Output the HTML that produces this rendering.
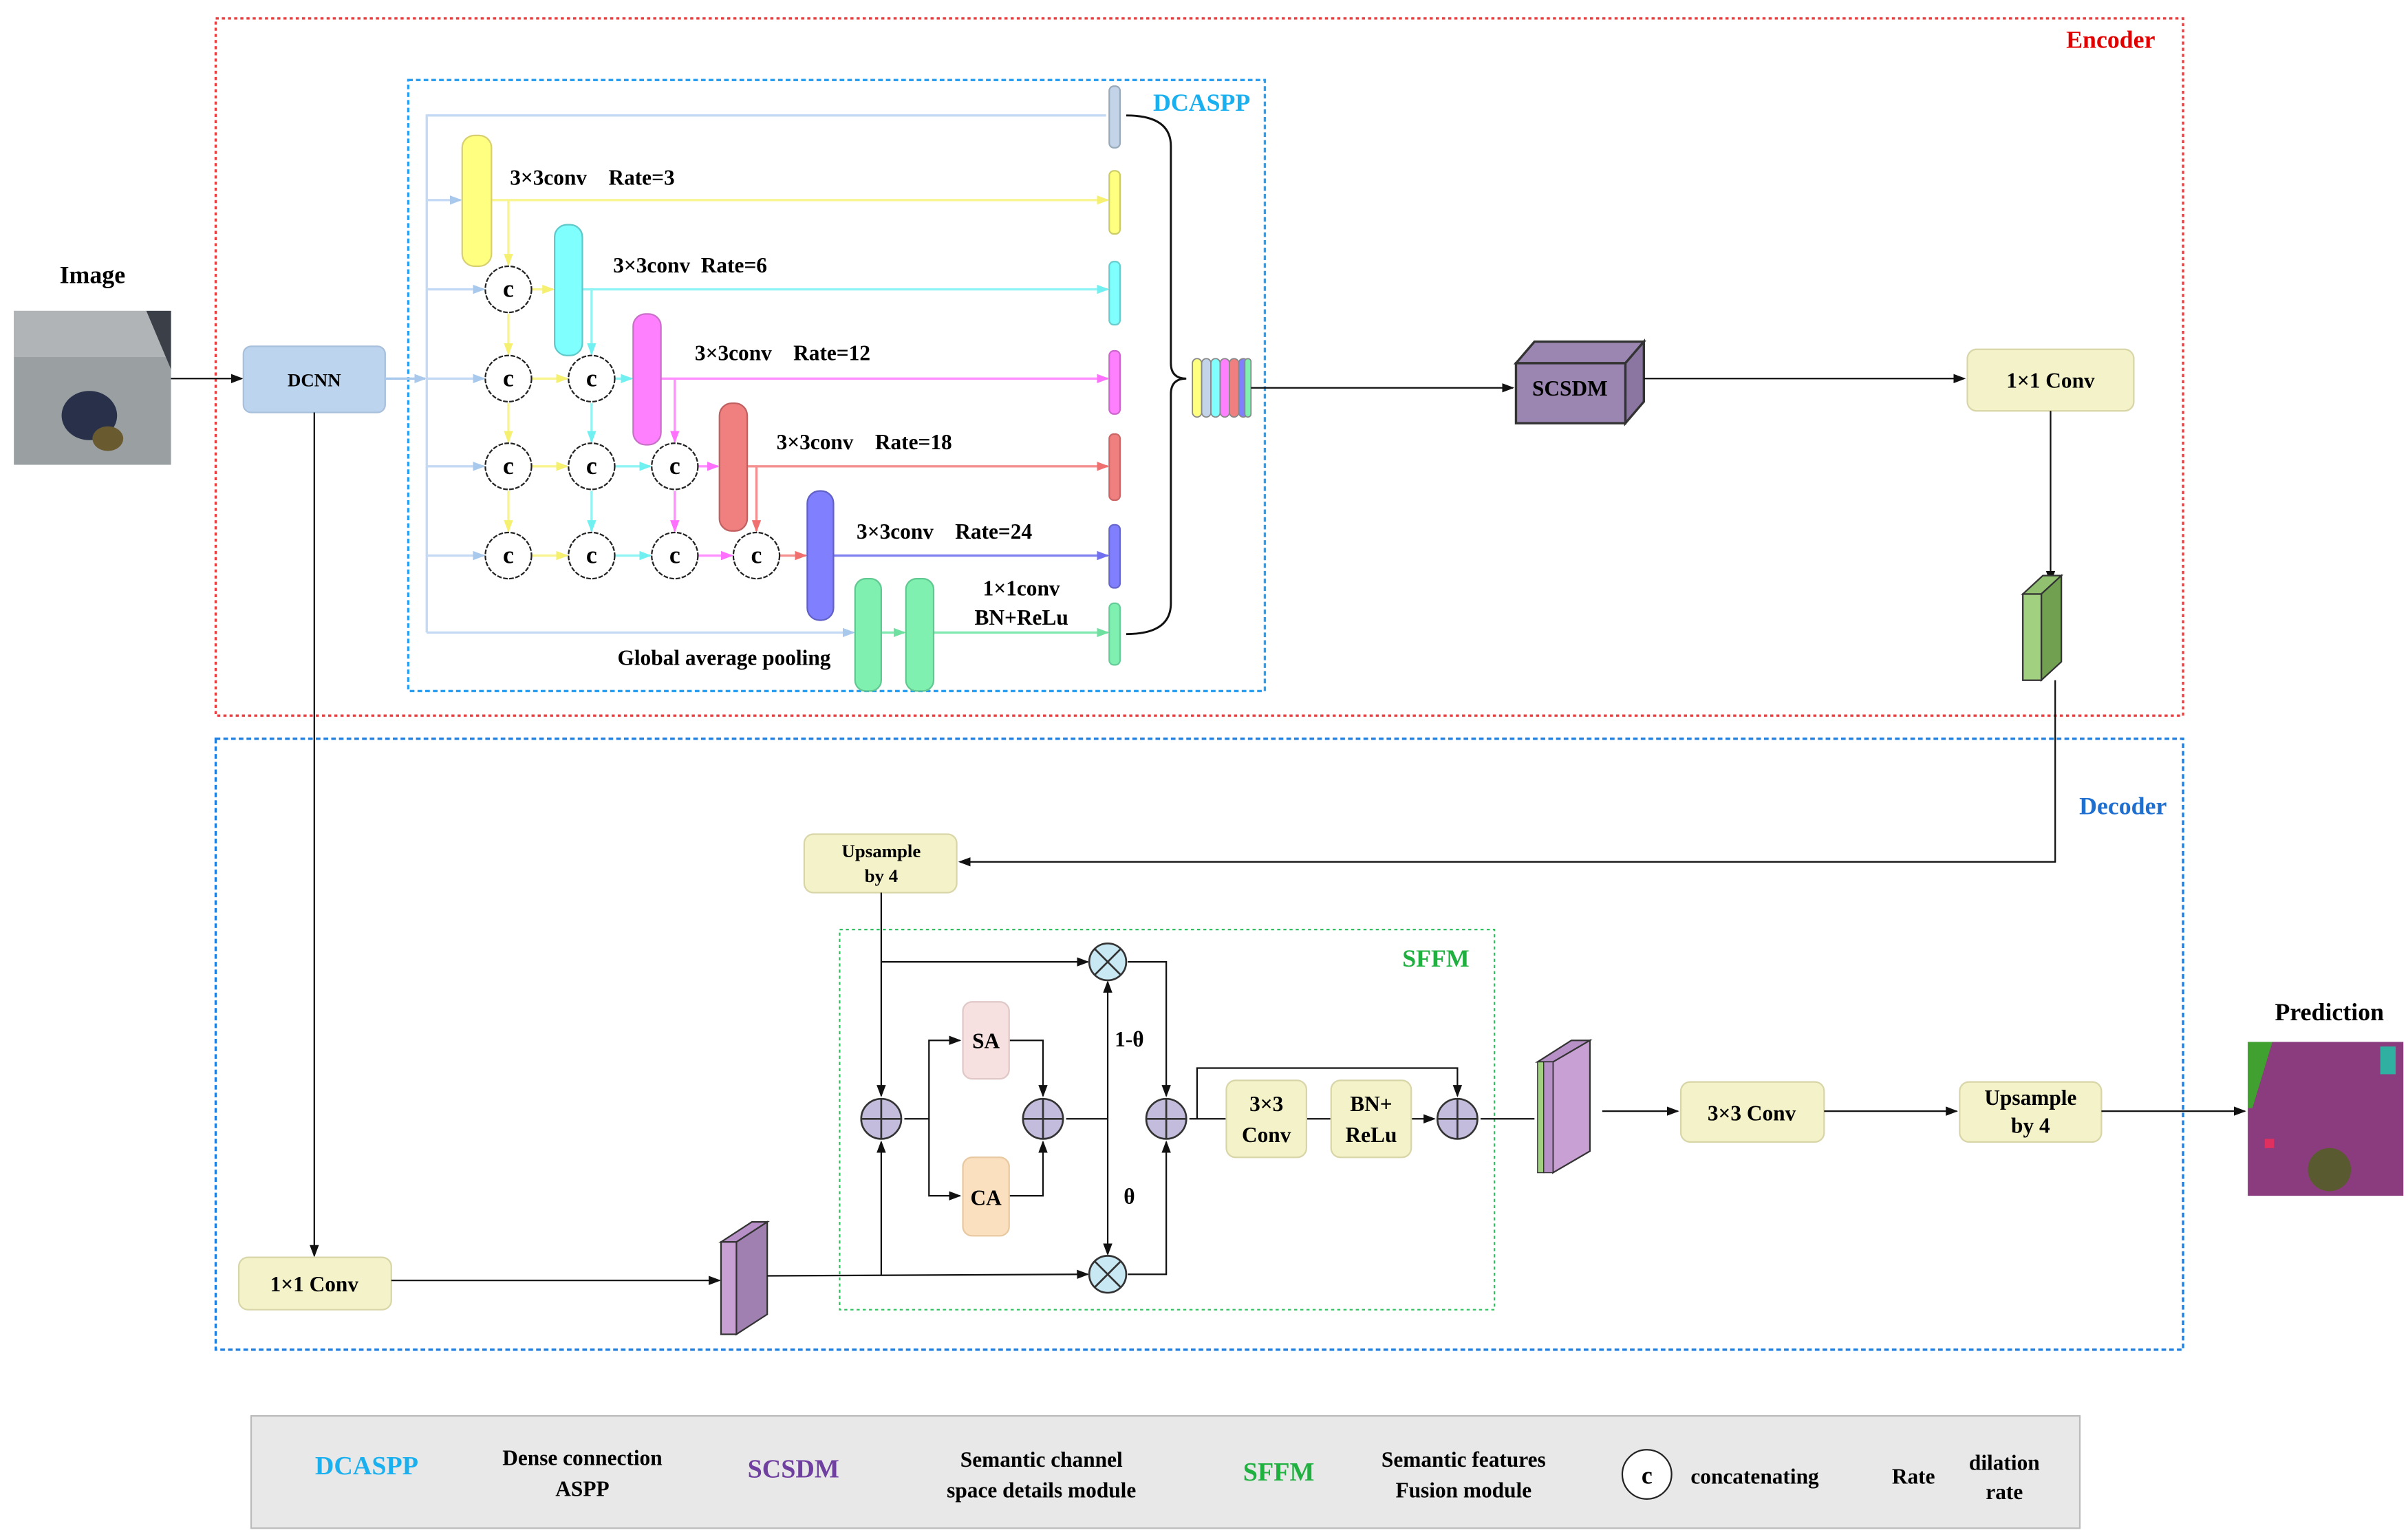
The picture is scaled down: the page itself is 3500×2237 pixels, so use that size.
<!DOCTYPE html>
<html><head><meta charset="utf-8"><style>html,body{margin:0;padding:0;background:#fff}svg{display:block}svg text{font-family:"Liberation Serif",serif;font-weight:bold}</style></head>
<body>
<svg width="3500" height="2237" viewBox="0 0 1563 1000" preserveAspectRatio="none" xmlns="http://www.w3.org/2000/svg">
<defs>
<marker id="a" markerWidth="8" markerHeight="8" refX="7" refY="4" orient="auto" markerUnits="userSpaceOnUse"><path d="M0,1 L8,4 L0,7z" fill="#111"/></marker>
<marker id="ab" markerWidth="8" markerHeight="8" refX="7" refY="4" orient="auto" markerUnits="userSpaceOnUse"><path d="M0,1 L8,4 L0,7z" fill="#a8c8ec"/></marker>
<marker id="ay" markerWidth="8" markerHeight="8" refX="7" refY="4" orient="auto" markerUnits="userSpaceOnUse"><path d="M0,1 L8,4 L0,7z" fill="#f6f070"/></marker>
<marker id="ac" markerWidth="8" markerHeight="8" refX="7" refY="4" orient="auto" markerUnits="userSpaceOnUse"><path d="M0,1 L8,4 L0,7z" fill="#70f0f0"/></marker>
<marker id="am" markerWidth="8" markerHeight="8" refX="7" refY="4" orient="auto" markerUnits="userSpaceOnUse"><path d="M0,1 L8,4 L0,7z" fill="#ff70ff"/></marker>
<marker id="ar" markerWidth="8" markerHeight="8" refX="7" refY="4" orient="auto" markerUnits="userSpaceOnUse"><path d="M0,1 L8,4 L0,7z" fill="#f07070"/></marker>
<marker id="au" markerWidth="8" markerHeight="8" refX="7" refY="4" orient="auto" markerUnits="userSpaceOnUse"><path d="M0,1 L8,4 L0,7z" fill="#7070f0"/></marker>
<marker id="ag" markerWidth="8" markerHeight="8" refX="7" refY="4" orient="auto" markerUnits="userSpaceOnUse"><path d="M0,1 L8,4 L0,7z" fill="#70e0a0"/></marker>
</defs>

<rect x="140" y="12" width="1277" height="453" fill="none" stroke="#e84040" stroke-width="1.5" stroke-dasharray="2,2"/>
<text x="1370" y="31" fill="#e00000" font-size="16" text-anchor="middle">Encoder</text>
<rect x="265" y="52" width="556" height="397" fill="none" stroke="#2a9ef0" stroke-width="1.5" stroke-dasharray="3,2"/>
<text x="780" y="72" fill="#1ab0f0" font-size="16" text-anchor="middle">DCASPP</text>
<rect x="140" y="480" width="1277" height="397" fill="none" stroke="#1f7fe0" stroke-width="1.5" stroke-dasharray="3,2"/>
<text x="1378" y="529" fill="#1f6fd0" font-size="16" text-anchor="middle">Decoder</text>
<rect x="545" y="604" width="425" height="247" fill="none" stroke="#30c060" stroke-width="1" stroke-dasharray="2,2"/>
<text x="932" y="628" fill="#20b040" font-size="16" text-anchor="middle">SFFM</text>

<text x="60" y="184" font-size="16" text-anchor="middle">Image</text>
<rect x="9" y="202" width="102" height="100" fill="#9a9fa2"/>
<rect x="9" y="202" width="102" height="30" fill="#b0b4b6"/>
<ellipse cx="58" cy="270" rx="18" ry="16" fill="#28304a"/>
<ellipse cx="70" cy="285" rx="10" ry="8" fill="#6a5a30"/>
<polygon points="95,202 111,202 111,240" fill="#3a3f48"/>
<line x1="111" y1="246" x2="157" y2="246" stroke="#111" marker-end="url(#a)"/>

<rect x="158" y="225" width="92" height="43" rx="5" fill="#bcd4ee" stroke="#a8c0dc"/>
<text x="204" y="251" font-size="12" text-anchor="middle">DCNN</text>
<line x1="204" y1="268" x2="204" y2="816" stroke="#111" marker-end="url(#a)"/>
<line x1="250" y1="246" x2="276" y2="246" stroke="#a8c8ec" stroke-width="1.5" marker-end="url(#ab)"/>

<g stroke="#c4daf4" stroke-width="1.5" fill="none">
<polyline points="277,411 277,75 718,75"/>
</g>
<g stroke="#c4daf4" stroke-width="1.5">
<line x1="277" y1="130" x2="299" y2="130" marker-end="url(#ab)"/>
<line x1="277" y1="188" x2="314" y2="188" marker-end="url(#ab)"/>
<line x1="277" y1="246" x2="314" y2="246" marker-end="url(#ab)"/>
<line x1="277" y1="303" x2="314" y2="303" marker-end="url(#ab)"/>
<line x1="277" y1="361" x2="314" y2="361" marker-end="url(#ab)"/>
<line x1="277" y1="411" x2="554" y2="411" marker-end="url(#ab)"/>
</g>

<g stroke="#f8f490" stroke-width="1.5">
<line x1="319" y1="130" x2="719" y2="130" marker-end="url(#ay)"/>
<line x1="330" y1="130" x2="330" y2="172" marker-end="url(#ay)"/>
<line x1="330" y1="204" x2="330" y2="230" marker-end="url(#ay)"/>
<line x1="330" y1="262" x2="330" y2="287" marker-end="url(#ay)"/>
<line x1="330" y1="319" x2="330" y2="345" marker-end="url(#ay)"/>
<line x1="345" y1="188" x2="359" y2="188" marker-end="url(#ay)"/>
<line x1="345" y1="246" x2="368" y2="246" marker-end="url(#ay)"/>
<line x1="345" y1="303" x2="368" y2="303" marker-end="url(#ay)"/>
<line x1="345" y1="361" x2="368" y2="361" marker-end="url(#ay)"/>
</g>
<g stroke="#90f4f4" stroke-width="1.5">
<line x1="378" y1="188" x2="719" y2="188" marker-end="url(#ac)"/>
<line x1="384" y1="188" x2="384" y2="230" marker-end="url(#ac)"/>
<line x1="384" y1="262" x2="384" y2="287" marker-end="url(#ac)"/>
<line x1="384" y1="319" x2="384" y2="345" marker-end="url(#ac)"/>
<line x1="399" y1="246" x2="410" y2="246" marker-end="url(#ac)"/>
<line x1="399" y1="303" x2="422" y2="303" marker-end="url(#ac)"/>
<line x1="399" y1="361" x2="422" y2="361" marker-end="url(#ac)"/>
</g>
<g stroke="#ff90ff" stroke-width="1.5">
<line x1="429" y1="246" x2="719" y2="246" marker-end="url(#am)"/>
<line x1="438" y1="246" x2="438" y2="287" marker-end="url(#am)"/>
<line x1="438" y1="319" x2="438" y2="345" marker-end="url(#am)"/>
<line x1="453" y1="303" x2="466" y2="303" marker-end="url(#am)"/>
<line x1="453" y1="361" x2="475" y2="361" marker-end="url(#am)"/>
</g>
<g stroke="#f49090" stroke-width="1.5">
<line x1="485" y1="303" x2="719" y2="303" marker-end="url(#ar)"/>
<line x1="491" y1="303" x2="491" y2="345" marker-end="url(#ar)"/>
<line x1="506" y1="361" x2="523" y2="361" marker-end="url(#ar)"/>
</g>
<line x1="541" y1="361" x2="719" y2="361" stroke="#8080f0" stroke-width="1.5" marker-end="url(#au)"/>
<line x1="572" y1="411" x2="587" y2="411" stroke="#80e8b0" stroke-width="1.5" marker-end="url(#ag)"/>
<line x1="606" y1="411" x2="719" y2="411" stroke="#80e8b0" stroke-width="1.5" marker-end="url(#ag)"/>

<rect x="300" y="88" width="19" height="85" rx="8" fill="#ffff80" stroke="#d8d070"/>
<rect x="360" y="146" width="18" height="85" rx="8" fill="#80ffff" stroke="#60c8c8"/>
<rect x="411" y="204" width="18" height="85" rx="8" fill="#ff80ff" stroke="#c870c8"/>
<rect x="467" y="262" width="18" height="83" rx="8" fill="#f08080" stroke="#c06060"/>
<rect x="524" y="319" width="17" height="84" rx="8" fill="#8080ff" stroke="#6060c8"/>
<rect x="555" y="376" width="17" height="73" rx="7" fill="#80f0b0" stroke="#60c890"/>
<rect x="588" y="376" width="18" height="73" rx="7" fill="#80f0b0" stroke="#60c890"/>

<g fill="#fff" stroke="#222" stroke-dasharray="3,1">
<circle cx="330" cy="188" r="15"/>
<circle cx="330" cy="246" r="15"/><circle cx="384" cy="246" r="15"/>
<circle cx="330" cy="303" r="15"/><circle cx="384" cy="303" r="15"/><circle cx="438" cy="303" r="15"/>
<circle cx="330" cy="361" r="15"/><circle cx="384" cy="361" r="15"/><circle cx="438" cy="361" r="15"/><circle cx="491" cy="361" r="15"/>
</g>
<g font-size="16" text-anchor="middle">
<text x="330" y="193">c</text>
<text x="330" y="251">c</text><text x="384" y="251">c</text>
<text x="330" y="308">c</text><text x="384" y="308">c</text><text x="438" y="308">c</text>
<text x="330" y="366">c</text><text x="384" y="366">c</text><text x="438" y="366">c</text><text x="491" y="366">c</text>
</g>

<g font-size="14">
<text x="331" y="120" xml:space="preserve">3×3conv    Rate=3</text>
<text x="398" y="177" xml:space="preserve">3×3conv  Rate=6</text>
<text x="451" y="234" xml:space="preserve">3×3conv    Rate=12</text>
<text x="504" y="292" xml:space="preserve">3×3conv    Rate=18</text>
<text x="556" y="350" xml:space="preserve">3×3conv    Rate=24</text>
<text x="663" y="387" text-anchor="middle">1×1conv</text>
<text x="663" y="406" text-anchor="middle">BN+ReLu</text>
<text x="470" y="432" text-anchor="middle">Global average pooling</text>
</g>

<rect x="720" y="56" width="7" height="40" rx="3" fill="#c4d4e8" stroke="#9ab"/>
<rect x="720" y="111" width="7" height="41" rx="3" fill="#ffff80" stroke="#cc6"/>
<rect x="720" y="170" width="7" height="41" rx="3" fill="#80ffff" stroke="#6cc"/>
<rect x="720" y="228" width="7" height="41" rx="3" fill="#ff80ff" stroke="#c6c"/>
<rect x="720" y="282" width="7" height="43" rx="3" fill="#f08080" stroke="#c66"/>
<rect x="720" y="341" width="7" height="41" rx="3" fill="#8080ff" stroke="#66c"/>
<rect x="720" y="392" width="7" height="40" rx="3" fill="#80f0b0" stroke="#6c9"/>

<path d="M731,75 Q760,75 760,95 L760,236 Q760,246 770,246 Q760,246 760,256 L760,392 Q760,412 731,412" fill="none" stroke="#111" stroke-width="1.3"/>

<g stroke="#888" stroke-width="0.8">
<rect x="774" y="233" width="6" height="38" rx="3" fill="#ffff80"/>
<rect x="780" y="233" width="6" height="38" rx="3" fill="#c4d4e8"/>
<rect x="786" y="233" width="6" height="38" rx="3" fill="#80ffff"/>
<rect x="792" y="233" width="6" height="38" rx="3" fill="#ff80ff"/>
<rect x="798" y="233" width="6" height="38" rx="3" fill="#f08080"/>
<rect x="804" y="233" width="6" height="38" rx="3" fill="#8080ff"/>
<rect x="808" y="233" width="4" height="38" rx="2" fill="#80f0b0"/>
</g>
<line x1="812" y1="252" x2="982" y2="252" stroke="#111" marker-end="url(#a)"/>

<polygon points="984,236 996,222 1067,222 1055,236" fill="#9a86b0" stroke="#333" stroke-width="1.5"/>
<polygon points="1055,236 1067,222 1067,261 1055,275" fill="#8a76a0" stroke="#333" stroke-width="1.5"/>
<rect x="984" y="236" width="71" height="39" fill="#9a86b0" stroke="#333" stroke-width="1.5"/>
<text x="1019" y="257" font-size="14" text-anchor="middle">SCSDM</text>
<line x1="1067" y1="246" x2="1275" y2="246" stroke="#111" marker-end="url(#a)"/>

<rect x="1277" y="227" width="108" height="40" rx="6" fill="#f4f2c8" stroke="#d8d6a8"/>
<text x="1331" y="252" font-size="14" text-anchor="middle">1×1 Conv</text>
<line x1="1331" y1="267" x2="1331" y2="378" stroke="#111" marker-end="url(#a)"/>
<polygon points="1313,386 1326,374 1338,374 1325,386" fill="#90c070" stroke="#333"/>
<polygon points="1325,386 1338,374 1338,430 1325,442" fill="#70a050" stroke="#333"/>
<rect x="1313" y="386" width="12" height="56" fill="#a0d080" stroke="#333"/>
<polyline points="1334,442 1334,560 623,560" fill="none" stroke="#111" marker-end="url(#a)"/>

<rect x="522" y="542" width="99" height="38" rx="6" fill="#f4f2c8" stroke="#d8d6a8"/>
<text x="572" y="557" font-size="12" text-anchor="middle">Upsample</text>
<text x="572" y="573" font-size="12" text-anchor="middle">by 4</text>
<polyline points="572,580 572,712" fill="none" stroke="#111" marker-end="url(#a)"/>
<line x1="572" y1="625" x2="706" y2="625" stroke="#111" marker-end="url(#a)"/>

<rect x="155" y="817" width="99" height="34" rx="6" fill="#f4f2c8" stroke="#d8d6a8"/>
<text x="204" y="839" font-size="14" text-anchor="middle">1×1 Conv</text>
<line x1="254" y1="832" x2="467" y2="832" stroke="#111" marker-end="url(#a)"/>
<polygon points="468,807 488,794 498,794 478,807" fill="#b890c8" stroke="#333"/>
<polygon points="478,807 498,794 498,854 478,867" fill="#a080b0" stroke="#333"/>
<rect x="468" y="807" width="10" height="60" fill="#c8a0d4" stroke="#333"/>
<line x1="498" y1="829" x2="706" y2="828" stroke="#111" marker-end="url(#a)"/>
<line x1="572" y1="829" x2="572" y2="742" stroke="#111" marker-end="url(#a)"/>

<g stroke="#111" fill="none">
<polyline points="587,727 603,727 603,676 623,676" marker-end="url(#a)"/>
<polyline points="603,727 603,777 623,777" marker-end="url(#a)"/>
<polyline points="655,676 677,676 677,712" marker-end="url(#a)"/>
<polyline points="655,777 677,777 677,742" marker-end="url(#a)"/>
<line x1="692" y1="727" x2="719" y2="727"/>
<line x1="719" y1="727" x2="719" y2="638" marker-end="url(#a)"/>
<line x1="719" y1="727" x2="719" y2="815" marker-end="url(#a)"/>
<polyline points="732,625 757,625 757,712" marker-end="url(#a)"/>
<polyline points="732,828 757,828 757,742" marker-end="url(#a)"/>
<line x1="772" y1="727" x2="796" y2="727"/>
<line x1="848" y1="727" x2="864" y2="727"/>
<line x1="916" y1="727" x2="931" y2="727" marker-end="url(#a)"/>
<polyline points="777,727 777,694 946,694 946,712" marker-end="url(#a)"/>
<line x1="961" y1="727" x2="996" y2="727"/>
</g>
<rect x="625" y="651" width="30" height="50" rx="6" fill="#f6e0e0" stroke="#e0c8c8"/>
<text x="640" y="681" font-size="14" text-anchor="middle">SA</text>
<rect x="625" y="752" width="30" height="51" rx="6" fill="#fbe0c0" stroke="#e8c8a0"/>
<text x="640" y="783" font-size="14" text-anchor="middle">CA</text>
<text x="733" y="680" font-size="14" text-anchor="middle">1-θ</text>
<text x="733" y="782" font-size="14" text-anchor="middle">θ</text>

<g stroke="#333" stroke-width="1.2">
<g fill="#c4bcdc">
<circle cx="572" cy="727" r="13"/><circle cx="677" cy="727" r="13"/><circle cx="757" cy="727" r="13"/><circle cx="946" cy="727" r="13"/>
</g>
<path d="M559,727h26M572,714v26M664,727h26M677,714v26M744,727h26M757,714v26M933,727h26M946,714v26"/>
<g fill="#c8e8f4">
<circle cx="719" cy="625" r="12"/><circle cx="719" cy="828" r="12"/>
</g>
<path d="M710.5,616.5l17,17M727.5,616.5l-17,17M710.5,819.5l17,17M727.5,819.5l-17,17"/>
</g>

<rect x="796" y="702" width="52" height="50" rx="6" fill="#f4f2c8" stroke="#d8d6a8"/>
<text x="822" y="722" font-size="14" text-anchor="middle">3×3</text>
<text x="822" y="742" font-size="14" text-anchor="middle">Conv</text>
<rect x="864" y="702" width="52" height="50" rx="6" fill="#f4f2c8" stroke="#d8d6a8"/>
<text x="890" y="722" font-size="14" text-anchor="middle">BN+</text>
<text x="890" y="742" font-size="14" text-anchor="middle">ReLu</text>

<polygon points="998,690 1020,676 1032,676 1010,690" fill="#b890c8" stroke="#333"/>
<polygon points="1008,690 1032,676 1032,748 1008,762" fill="#c8a0d4" stroke="#333"/>
<rect x="998" y="690" width="4" height="72" fill="#a0d080" stroke="#333" stroke-width="0.6"/>
<rect x="1002" y="690" width="6" height="72" fill="#b890c8" stroke="#333" stroke-width="0.6"/>
<line x1="1040" y1="722" x2="1089" y2="722" stroke="#111" marker-end="url(#a)"/>
<rect x="1091" y="703" width="93" height="39" rx="6" fill="#f4f2c8" stroke="#d8d6a8"/>
<text x="1137" y="728" font-size="14" text-anchor="middle">3×3 Conv</text>
<line x1="1184" y1="722" x2="1270" y2="722" stroke="#111" marker-end="url(#a)"/>
<rect x="1272" y="703" width="92" height="39" rx="6" fill="#f4f2c8" stroke="#d8d6a8"/>
<text x="1318" y="718" font-size="14" text-anchor="middle">Upsample</text>
<text x="1318" y="736" font-size="14" text-anchor="middle">by 4</text>
<line x1="1364" y1="722" x2="1457" y2="722" stroke="#111" marker-end="url(#a)"/>

<text x="1512" y="663" font-size="16" text-anchor="middle">Prediction</text>
<rect x="1459" y="677" width="101" height="100" fill="#8a3c7e"/>
<polygon points="1459,677 1475,677 1462,720 1459,720" fill="#40a030"/>
<ellipse cx="1512" cy="760" rx="14" ry="14" fill="#5a5a30"/>
<rect x="1545" y="680" width="10" height="18" fill="#30b0a0"/>
<rect x="1470" y="740" width="6" height="6" fill="#e03060"/>

<rect x="163" y="920" width="1187" height="73" fill="#e8e8e8" stroke="#bbb"/>
<g font-size="14" text-anchor="middle">
<text x="238" y="958" fill="#1ab0f0" font-size="17">DCASPP</text>
<text x="378" y="952">Dense connection</text>
<text x="378" y="972">ASPP</text>
<text x="515" y="960" fill="#7040a0" font-size="17">SCSDM</text>
<text x="676" y="953">Semantic channel</text>
<text x="676" y="973">space details module</text>
<text x="830" y="962" fill="#20b040" font-size="17">SFFM</text>
<text x="950" y="953">Semantic features</text>
<text x="950" y="973">Fusion module</text>
<text x="1139" y="964">concatenating</text>
<text x="1242" y="964">Rate</text>
<text x="1301" y="955">dilation</text>
<text x="1301" y="974">rate</text>
</g>
<circle cx="1069" cy="958" r="16" fill="#fff" stroke="#222"/>
<text x="1069" y="964" font-size="16" text-anchor="middle">c</text>
</svg>
</body></html>
